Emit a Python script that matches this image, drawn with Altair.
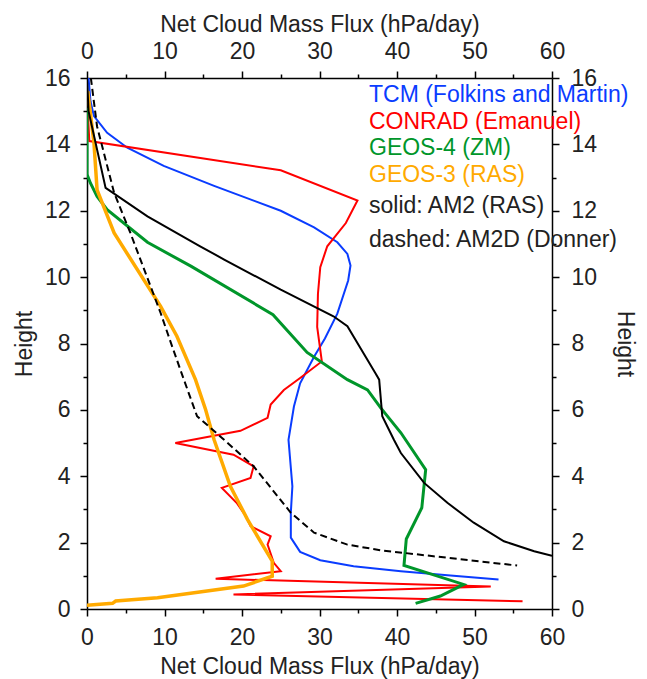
import altair as alt
import pandas as pd

FONT = "Liberation Sans"

# ---- data ----
tcm_x = [0.2, 0.45, 0.9, 2.6, 5.2, 9.9, 16.4, 25.0, 29.3, 32.3, 33.6, 34.0, 33.7, 32.3, 30.7, 29.3, 27.5, 26.7, 26.0, 26.5, 26.3, 26.3, 27.5, 30.1, 34.4, 40.5, 46.9, 53.1]
tcm_y = [16.0, 15.3, 14.85, 14.35, 13.9, 13.35, 12.75, 12.0, 11.5, 11.05, 10.7, 10.35, 9.9, 8.9, 8.15, 7.6, 6.8, 6.1, 5.1, 3.7, 2.9, 2.15, 1.72, 1.47, 1.29, 1.14, 1.01, 0.89]

conrad_x = [0.1, 0.3, 25.0, 34.9, 33.4, 31.0, 30.1, 29.8, 29.7, 30.3, 27.5, 25.4, 23.7, 23.3, 19.8, 11.4, 18.9, 21.5, 21.1, 17.4, 19.3, 20.5, 21.1, 23.7, 23.3, 24.1, 25.0, 16.6, 52.1, 18.9, 56.2]
conrad_y = [15.0, 14.1, 13.22, 12.31, 11.63, 10.93, 10.3, 9.5, 8.5, 7.46, 6.96, 6.6, 6.16, 5.76, 5.37, 5.0, 4.65, 4.3, 3.95, 3.65, 3.2, 2.8, 2.5, 2.19, 1.94, 1.39, 1.14, 0.91, 0.68, 0.44, 0.23]

geos4_x = [0.0, 0.0, 0.45, 1.3, 2.6, 7.8, 13.4, 24.0, 28.4, 33.6, 36.2, 37.9, 40.5, 43.7, 43.2, 41.2, 40.9, 48.6, 45.6, 42.4]
geos4_y = [15.1, 13.1, 12.83, 12.43, 12.03, 11.05, 10.33, 8.87, 7.73, 6.91, 6.6, 6.06, 5.31, 4.2, 3.05, 2.11, 1.31, 0.74, 0.39, 0.17]

geos3_x = [0.1, 0.9, 1.3, 3.5, 9.5, 11.6, 14.0, 15.3, 16.4, 18.5, 20.7, 23.9, 23.9, 20.2, 9.1, 3.7, 3.3, 0.0]
geos3_y = [15.6, 14.04, 12.63, 11.33, 9.12, 8.22, 6.91, 6.01, 5.1, 3.7, 2.7, 1.44, 0.99, 0.69, 0.34, 0.24, 0.17, 0.11]

am2_x = [0.0, 0.2, 2.4, 7.8, 14.6, 17.7, 25.0, 31.8, 33.6, 37.2, 37.7, 38.1, 39.6, 40.5, 43.5, 46.5, 49.9, 53.8, 57.7, 60.0]
am2_y = [16.0, 15.0, 12.69, 11.83, 10.93, 10.53, 9.62, 8.82, 8.52, 7.11, 6.91, 5.81, 5.1, 4.7, 3.8, 3.2, 2.6, 2.04, 1.74, 1.6]

am2d_x = [0.5, 1.3, 3.5, 5.6, 9.5, 10.6, 12.5, 14.2, 17.2, 21.5, 26.3, 29.3, 33.6, 37.9, 44.7, 55.5]
am2d_y = [16.0, 14.54, 12.54, 11.33, 8.92, 8.17, 6.91, 5.81, 5.2, 4.3, 2.9, 2.3, 1.94, 1.77, 1.59, 1.31]

legend_labels = ["TCM (Folkins and Martin)", "CONRAD (Emanuel)", "GEOS-4 (ZM)", "GEOS-3 (RAS)",
                 "solid: AM2 (RAS)", "dashed: AM2D (Donner)"]

x_ticks = [0, 5, 10, 15, 20, 25, 30, 35, 40, 45, 50, 55, 60]
y_ticks = list(range(0, 17))

series = [("TCM", tcm_x, tcm_y), ("CONRAD", conrad_x, conrad_y), ("GEOS4", geos4_x, geos4_y),
          ("GEOS3", geos3_x, geos3_y), ("AM2", am2_x, am2_y), ("AM2D", am2d_x, am2d_y)]
rows = []
for name, xs, ys in series:
    for i, (xv, yv) in enumerate(zip(xs, ys)):
        rows.append({"series": name, "i": i, "x": xv, "y": yv})
df = pd.DataFrame(rows)

xscale = alt.Scale(domain=[0, 60], nice=False, zero=False)
yscale = alt.Scale(domain=[0, 16], nice=False, zero=False)

BLUE = "#0a3cff"
RED = "#ff0000"
GREEN = "#00962a"
ORANGE = "#ffaa00"
BLACK = "#000000"
TXT = "#222222"


def line(name, color, width, dash=None):
    kw = dict(color=color, strokeWidth=width, clip=True, strokeJoin="miter")
    if dash:
        kw["strokeDash"] = dash
    return alt.Chart(df).transform_filter(alt.datum.series == name).mark_line(**kw).encode(
        x=alt.X("x:Q", scale=xscale, axis=None),
        y=alt.Y("y:Q", scale=yscale, axis=None),
        order="i:Q",
    )


FS = 23
common = dict(domainColor="black", domainWidth=1.5, tickColor="black", tickWidth=1.5,
              labelFont=FONT, labelFontSize=FS, labelColor=TXT, titleFont=FONT,
              titleFontSize=FS, titleFontWeight="normal", titleColor=TXT, grid=False,
              labelFlush=False, labelOverlap=False)

xt = {"condition": {"test": "datum.value % 10 === 0", "value": 7}, "value": 4}
yt = {"condition": {"test": "datum.value % 2 === 0", "value": 7}, "value": 4}
xlab = "datum.value % 10 === 0 ? datum.label : ''"
ylab = "datum.value % 2 === 0 ? datum.label : ''"

axis_df = pd.DataFrame({"x": [0, 60], "y": [0, 16]})

bl = alt.Chart(axis_df).mark_point(opacity=0).encode(
    x=alt.X("x:Q", scale=xscale, axis=alt.Axis(orient="bottom", values=x_ticks, labelExpr=xlab,
                                               tickSize=xt, labelPadding=10, titlePadding=6,
                                               title="Net Cloud Mass Flux (hPa/day)", **common)),
    y=alt.Y("y:Q", scale=yscale, axis=alt.Axis(orient="left", values=y_ticks, labelExpr=ylab,
                                               tickSize=yt, labelPadding=10, titlePadding=8,
                                               title="Height", **common)),
)
tr = alt.Chart(axis_df).mark_point(opacity=0).encode(
    x=alt.X("x:Q", scale=xscale, axis=alt.Axis(orient="top", values=x_ticks, labelExpr=xlab,
                                               tickSize=xt, labelPadding=8, titlePadding=4,
                                               title="Net Cloud Mass Flux (hPa/day)", **common)),
    y=alt.Y("y:Q", scale=yscale, axis=alt.Axis(orient="right", values=y_ticks, labelExpr=ylab,
                                               tickSize=yt, labelPadding=12, titlePadding=16,
                                               title="Height", **common)),
)

legend_colors = [BLUE, RED, GREEN, ORANGE, TXT, TXT]
legend_y = [24, 51, 77, 104, 135, 169]
texts = []
for lab, col, yy in zip(legend_labels, legend_colors, legend_y):
    texts.append(
        alt.Chart(pd.DataFrame({"t": [lab]})).mark_text(
            align="left", baseline="alphabetic", font=FONT, fontSize=FS, color=col
        ).encode(text="t:N", x=alt.value(282), y=alt.value(yy))
    )

lines = [
    line("TCM", BLUE, 2),
    line("CONRAD", RED, 2),
    line("GEOS4", GREEN, 3),
    line("GEOS3", ORANGE, 3.5),
    line("AM2", BLACK, 2),
    line("AM2D", BLACK, 2, [7, 4]),
]

chart = alt.layer(bl, tr, *lines, *texts).resolve_axis(x="independent", y="independent").properties(
    width=465, height=531,
    autosize=alt.AutoSizeParams(type="none"),
    padding={"left": 79, "top": 70, "right": 87, "bottom": 70},
).configure_view(stroke=None).configure(background="white")

chart.save("out.html", embed_options={"renderer": "svg", "actions": False})
